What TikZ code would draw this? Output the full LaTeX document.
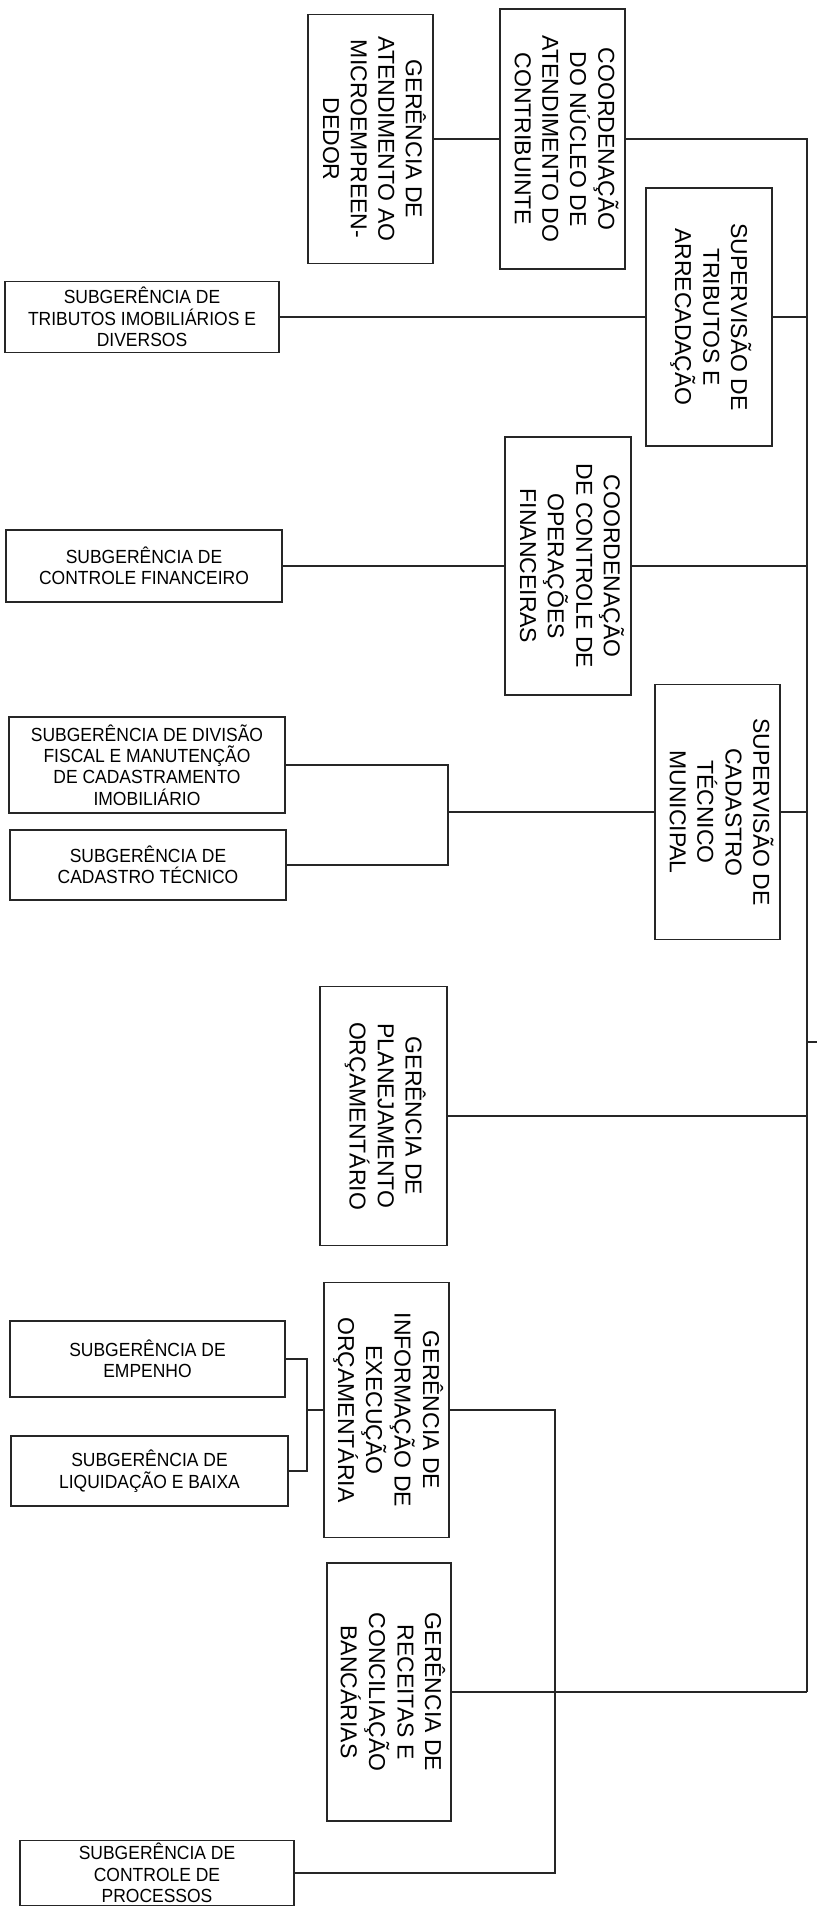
\documentclass[tikz,border=0pt]{standalone}
\usepackage{fontspec}
\setmainfont{Liberation Sans}
\newfontfamily\estreita[FakeStretch=0.92]{Liberation Sans}
\usepackage{graphicx}
\newcommand{\fontvert}{\fontsize{11.5}{13.8}\selectfont}
\newcommand{\fonthoriz}{\estreita\fontsize{9.5}{10.7}\selectfont}
\newcommand{\girar}[1]{\rotatebox{-90}{\begin{tabular}{@{}c@{}}#1\end{tabular}}}
\tikzset{
  vbox/.style={draw=black!85, line width=0.8pt, minimum width=62.5pt, inner sep=0pt, font=\fontvert},
  hbox/.style={draw=black!85, line width=0.8pt, minimum width=138pt, align=center, inner sep=0pt, font=\fonthoriz},
  ligacao/.style={draw=black!85, line width=0.8pt}
}

\begin{document}
\begin{tikzpicture}[x=0.5pt, y=-0.5pt]
\fill[white] (0,0) rectangle (817,1908);
\useasboundingbox (0,0) rectangle (817,1908);

% Núcleo de atendimento
\node[vbox, minimum height=124.5pt] (atendimento) at (370.5,139) {\girar{GERÊNCIA DE\\ATENDIMENTO AO\\MICROEMPREEN-\\DEDOR}};
\node[vbox, minimum height=130pt] (nucleo) at (562.5,139) {\girar{COORDENAÇÃO\\DO NÚCLEO DE\\ATENDIMENTO DO\\CONTRIBUINTE}};
\draw[ligacao] (atendimento) -- (nucleo);

% Tronco
\coordinate (ttop) at (807,139);
\coordinate (tbot) at (807,1692);
\coordinate (tsaida) at (817,1042);
\draw[ligacao] (nucleo) -- (ttop) -- (tbot);
\draw[ligacao] (ttop |- tsaida) -- (tsaida);

% Tributos e arrecadação
\node[vbox, minimum width=63pt, minimum height=129pt] (tributos) at (709,317) {\girar{SUPERVISÃO DE\\TRIBUTOS E\\ARRECADAÇÃO}};
\node[hbox, minimum width=137pt, minimum height=35.5pt] (imobiliarios) at (142,317) {SUBGERÊNCIA DE\\TRIBUTOS IMOBILIÁRIOS E\\DIVERSOS};
\draw[ligacao] (imobiliarios) -- (tributos);
\draw[ligacao] (tributos) -- (tributos -| ttop);

% Operações financeiras
\node[vbox, minimum width=63pt, minimum height=129pt] (operacoes) at (568,566) {\girar{COORDENAÇÃO\\DE CONTROLE DE\\OPERAÇÕES\\FINANCEIRAS}};
\node[hbox, minimum height=36pt] (financeiro) at (144,566) {SUBGERÊNCIA DE\\CONTROLE FINANCEIRO};
\draw[ligacao] (financeiro) -- (operacoes);
\draw[ligacao] (operacoes) -- (operacoes -| ttop);

% Cadastro técnico
\node[vbox, minimum height=127.5pt] (cadastro) at (717.5,812) {\girar{SUPERVISÃO DE\\CADASTRO\\TÉCNICO\\MUNICIPAL}};
\node[hbox, minimum height=48pt] (divisao) at (147,765) {SUBGERÊNCIA DE DIVISÃO\\FISCAL E MANUTENÇÃO\\DE CADASTRAMENTO\\IMOBILIÁRIO};
\node[hbox, minimum height=35pt] (cadtecnico) at (148,865) {SUBGERÊNCIA DE\\CADASTRO TÉCNICO};
\coordinate (jcadastro) at (448,812);
\draw[ligacao] (divisao.east) -| (jcadastro) |- (cadtecnico.east);
\draw[ligacao] (jcadastro) -- (cadastro);
\draw[ligacao] (cadastro) -- (cadastro -| ttop);

% Planejamento orçamentário
\node[vbox, minimum width=63.5pt, minimum height=129.5pt] (planejamento) at (383.5,1116) {\girar{GERÊNCIA DE\\PLANEJAMENTO\\ORÇAMENTÁRIO}};
\draw[ligacao] (planejamento) -- (planejamento -| ttop);

% Execução orçamentária
\node[vbox, minimum height=127.5pt] (execucao) at (386.5,1410) {\girar{GERÊNCIA DE\\INFORMAÇÃO DE\\EXECUÇÃO\\ORÇAMENTÁRIA}};
\node[hbox, minimum width=137.5pt, minimum height=38pt] (empenho) at (147.5,1359) {SUBGERÊNCIA DE\\EMPENHO};
\node[hbox, minimum width=138.5pt, minimum height=35pt] (liquidacao) at (149.5,1471) {SUBGERÊNCIA DE\\LIQUIDAÇÃO E BAIXA};
\coordinate (jexecucao) at (307,1410);
\draw[ligacao] (empenho.east) -| (jexecucao) |- (liquidacao.east);
\draw[ligacao] (jexecucao) -- (execucao);

% Receitas e processos
\node[vbox, minimum width=62pt, minimum height=129pt] (receitas) at (389,1692) {\girar{GERÊNCIA DE\\RECEITAS E\\CONCILIAÇÃO\\BANCÁRIAS}};
\node[hbox, minimum width=137pt, minimum height=32.5pt] (processos) at (157,1873) {SUBGERÊNCIA DE\\CONTROLE DE\\PROCESSOS};
\coordinate (jprocessos) at (555,1873);
\draw[ligacao] (receitas) -- (tbot);
\draw[ligacao] (execucao.east) -| (jprocessos) -- (processos);
\end{tikzpicture}
\end{document}
